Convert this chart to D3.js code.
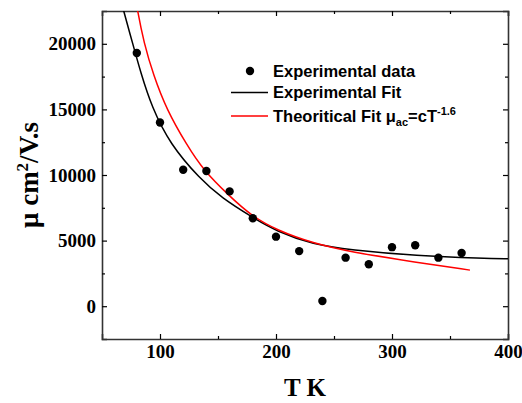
<!DOCTYPE html>
<html>
  <head>
    <meta charset="utf-8" />
    <title>Mobility vs temperature</title>
    <script src="https://d3js.org/d3.v7.min.js"></script>
    <style>
      body { margin: 0; background: #fff; }
      .legend text { font-family: "Liberation Sans", Arial, sans-serif; font-weight: bold; font-size: 16.5px; fill: #000; }
    </style>
  </head>
  <body>
    <div id="chart"></div>

    <script>
      // measured points
      const tempK = [80, 100, 120, 140, 160, 180, 200, 220, 240, 260, 280, 300, 320, 340, 360];
      const mobility = [19300, 14000, 10400, 10300, 8750, 6700, 5300, 4200, 400, 3700, 3200, 4500, 4650, 3700, 4050];

      // fitted curves as [T, mu]
      const expFit = [
        [64, 24000], [68.4, 22600], [76.5, 20000], [83.4, 17800], [92.8, 15200], [108.6, 12350],
        [134.5, 9700], [153.2, 8250], [179, 6800], [200.6, 5700], [232.2, 4700], [263.8, 4300],
        [321.3, 3840], [378.7, 3640], [400, 3610], [404, 3605]
      ];
      const theoFit = [
        [78, 24000], [80.4, 22600], [86.2, 20050], [94.2, 17650], [105.8, 14960], [123, 12300],
        [137.3, 10380], [158.9, 8470], [179, 6870], [200.6, 5800], [232.2, 4790], [263.8, 4145],
        [321.3, 3340], [367.2, 2750]
      ];

      const xMajor = [100, 200, 300, 400];
      const xMinor = [150, 250, 350];
      const yMajor = [0, 5000, 10000, 15000, 20000];
      const yMinor = [2500, 7500, 12500, 17500];

      const width = 522, height = 403;
      const margin = { left: 102, right: 14, top: 11, bottom: 64 };
      const serif = "'Liberation Serif', 'Times New Roman', serif";

      const svg = d3.select("#chart").append("svg")
        .attr("width", width).attr("height", height);

      const x = d3.scaleLinear().domain([50, 400]).range([margin.left, width - margin.right]);
      const y = d3.scaleLinear().domain([-2500, 22500]).range([height - margin.bottom, margin.top]);

      svg.append("clipPath").attr("id", "clip")
        .append("rect")
        .attr("x", margin.left).attr("y", margin.top)
        .attr("width", x.range()[1] - margin.left)
        .attr("height", y.range()[0] - margin.top);

      // axes: ticks point inward, minor ticks shorter
      function drawAxis(axisFn, scale, tr, major, minor, labels) {
        const g = svg.append("g").attr("transform", tr);
        g.call(axisFn(scale).tickValues(major).tickSize(-5).tickPadding(labels ? 6 : 0)
          .tickFormat(labels ? d3.format("d") : ""));
        g.append("g").call(axisFn(scale).tickValues(minor).tickSize(-3).tickFormat(""))
          .select(".domain").remove();
        g.selectAll("line").attr("stroke", "#000").attr("stroke-width", 1.2);
        g.selectAll(".domain").attr("stroke", "#333").attr("stroke-width", 1.6);
        g.selectAll("text")
          .style("font-family", serif)
          .style("font-weight", "bold")
          .style("font-size", "19px")
          .attr("fill", "#000");
        return g;
      }

      const bottom = y.range()[0], right = x.range()[1];
      drawAxis(d3.axisBottom, x, `translate(0,${bottom})`, xMajor, xMinor, true);
      drawAxis(d3.axisTop, x, `translate(0,${margin.top})`, xMajor, xMinor, false);
      drawAxis(d3.axisLeft, y, `translate(${margin.left},0)`, yMajor, yMinor, true);
      drawAxis(d3.axisRight, y, `translate(${right},0)`, yMajor, yMinor, false);

      const plot = svg.append("g").attr("clip-path", "url(#clip)");
      const line = d3.line().x(d => x(d[0])).y(d => y(d[1])).curve(d3.curveBasis);

      plot.append("path").datum(expFit).attr("d", line)
        .attr("fill", "none").attr("stroke", "#000").attr("stroke-width", 1.5);
      plot.append("path").datum(theoFit).attr("d", line)
        .attr("fill", "none").attr("stroke", "#ff0000").attr("stroke-width", 1.5);

      plot.selectAll("circle").data(tempK).join("circle")
        .attr("cx", d => x(d))
        .attr("cy", (d, i) => y(mobility[i]))
        .attr("r", 4.2)
        .attr("fill", "#000");

      // legend
      const lg = svg.append("g").attr("class", "legend");
      lg.append("circle").attr("cx", 250).attr("cy", 71).attr("r", 4.2).attr("fill", "#000");
      lg.append("text").attr("x", 273).attr("y", 77).text("Experimental data");
      lg.append("line").attr("x1", 231).attr("x2", 268).attr("y1", 92.5).attr("y2", 92.5)
        .attr("stroke", "#000").attr("stroke-width", 1.5);
      lg.append("text").attr("x", 273).attr("y", 98).text("Experimental Fit");
      lg.append("line").attr("x1", 231).attr("x2", 268).attr("y1", 116).attr("y2", 116)
        .attr("stroke", "#ff0000").attr("stroke-width", 1.5);
      const t3 = lg.append("text").attr("x", 273).attr("y", 121.5);
      t3.append("tspan").text("Theoritical Fit μ");
      t3.append("tspan").attr("dy", 4).style("font-size", "11px").text("ac");
      t3.append("tspan").attr("dy", -4).text("=cT");
      t3.append("tspan").attr("dy", -7).style("font-size", "11px").text("-1.6");

      // axis titles
      svg.append("text")
        .attr("x", (margin.left + right) / 2).attr("y", 396)
        .attr("text-anchor", "middle")
        .style("font-family", serif)
        .style("font-weight", "bold").style("font-size", "25px")
        .text("T K");

      const yt = svg.append("text")
        .attr("transform", `translate(38,${(margin.top + bottom) / 2}) rotate(-90)`)
        .attr("text-anchor", "middle")
        .style("font-family", serif)
        .style("font-weight", "bold").style("font-size", "27px");
      yt.append("tspan").text("μ cm");
      yt.append("tspan").attr("dy", -10).style("font-size", "17px").text("2");
      yt.append("tspan").attr("dy", 10).text("/V.s");
    </script>
  </body>
</html>
